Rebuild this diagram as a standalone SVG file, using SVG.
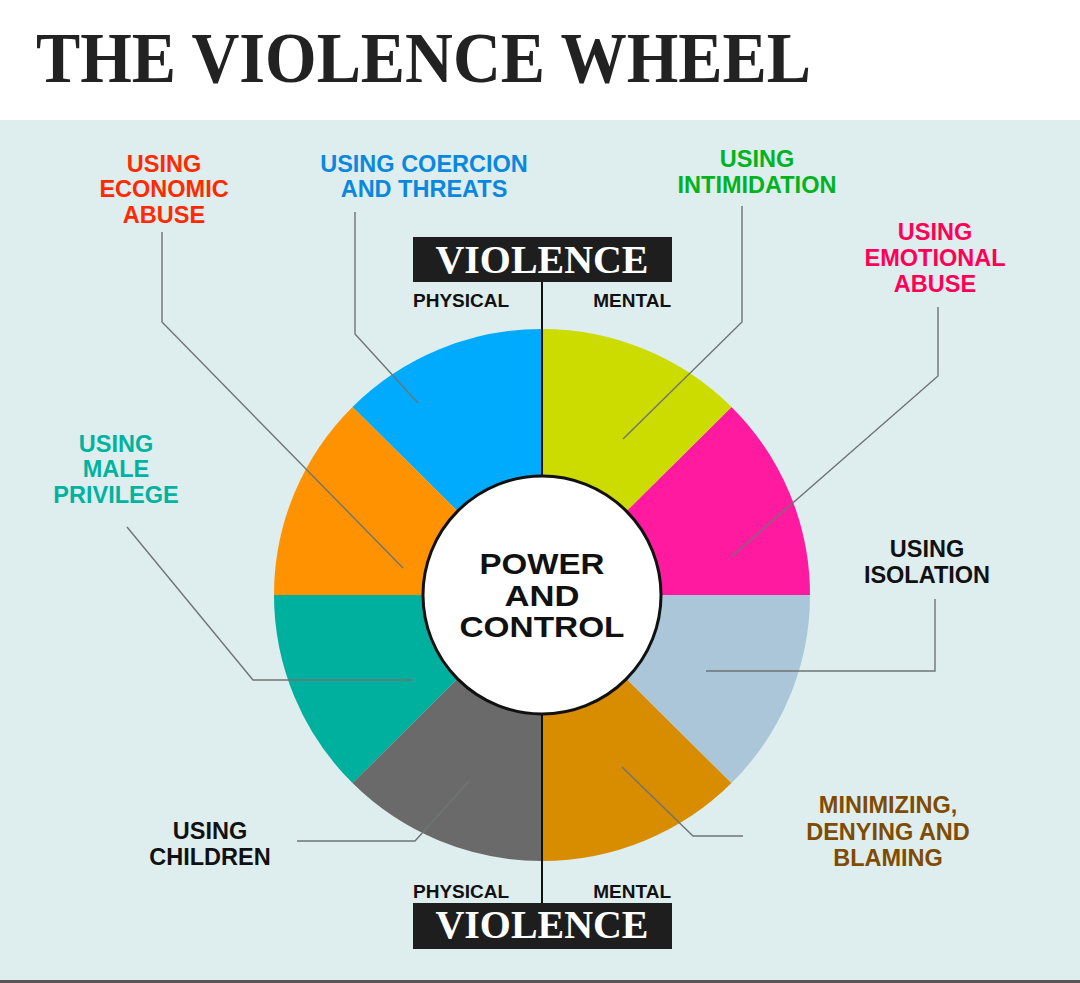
<svg xmlns="http://www.w3.org/2000/svg" width="1080" height="983" viewBox="0 0 1080 983">
  <style>
    .lbl { font-family: "Liberation Sans", Arial, sans-serif; font-weight: bold; font-size: 23.5px; text-anchor: middle; }
    .sub { font-family: "Liberation Sans", Arial, sans-serif; font-weight: bold; font-size: 19px; fill: #111; }
    .serif { font-family: "Liberation Serif", "Times New Roman", serif; font-weight: bold; }
    .ctr { font-family: "Liberation Sans", Arial, sans-serif; font-weight: bold; font-size: 29.5px; text-anchor: middle; fill: #111; }
    .lead { fill: none; stroke: #6f7474; stroke-width: 1.4; }
  </style>

  <!-- backgrounds -->
  <rect x="0" y="0" width="1080" height="983" fill="#ffffff"/>
  <rect x="0" y="120" width="1080" height="863" fill="#deedee"/>
  <rect x="0" y="980" width="1080" height="3" fill="#555555"/>

  <!-- title -->
  <g id="title">
    <text class="serif" x="36" y="82" font-size="72" fill="#222222" textLength="775" lengthAdjust="spacingAndGlyphs">THE VIOLENCE WHEEL</text>
  </g>

  <!-- wheel segments -->
  <g id="wheel">
    <path id="seg-emotional" d="M542,595 L810,595 A268,266 0 0 0 731.5,406.9 Z" fill="#ff1aa0"/>
    <path id="seg-intimidation" d="M542,595 L731.5,406.9 A268,266 0 0 0 542,329 Z" fill="#ccdb00"/>
    <path id="seg-coercion" d="M542,595 L542,329 A268,266 0 0 0 352.5,406.9 Z" fill="#00aafc"/>
    <path id="seg-economic" d="M542,595 L352.5,406.9 A268,266 0 0 0 274,595 Z" fill="#ff9200"/>
    <path id="seg-male" d="M542,595 L274,595 A268,266 0 0 0 352.5,783.1 Z" fill="#00b09f"/>
    <path id="seg-children" d="M542,595 L352.5,783.1 A268,266 0 0 0 542,861 Z" fill="#6a6a6a"/>
    <path id="seg-minimizing" d="M542,595 L542,861 A268,266 0 0 0 731.5,783.1 Z" fill="#d88c00"/>
    <path id="seg-isolation" d="M542,595 L731.5,783.1 A268,266 0 0 0 810,595 Z" fill="#aac6d8"/>
  </g>

  <!-- connectors -->
  <g id="connectors">
    <line x1="542" y1="282" x2="542" y2="903" stroke="#111111" stroke-width="2"/>
    <polyline class="lead" points="162,232 162,322 403,568"/>
    <polyline class="lead" points="355,212 355,334 418,403"/>
    <polyline class="lead" points="742,206 742,322 623,439"/>
    <polyline class="lead" points="938,307 938,376 731,557"/>
    <polyline class="lead" points="127,527 253,680 413,680"/>
    <polyline class="lead" points="935,599 935,671 706,671"/>
    <polyline class="lead" points="297,841 415,841 469,781"/>
    <polyline class="lead" points="622,767 693,836 743,836"/>
  </g>

  <!-- center -->
  <g id="center">
    <circle cx="542" cy="595" r="119" fill="#ffffff" stroke="#111111" stroke-width="3"/>
    <text class="ctr" x="542" y="574" textLength="125" lengthAdjust="spacingAndGlyphs">POWER</text>
    <text class="ctr" x="542" y="605.5" textLength="75" lengthAdjust="spacingAndGlyphs">AND</text>
    <text class="ctr" x="542" y="637" textLength="165" lengthAdjust="spacingAndGlyphs">CONTROL</text>
  </g>

  <!-- top violence header -->
  <g id="violence-top">
    <rect x="413" y="237" width="259" height="45" fill="#1e1e1e"/>
    <text class="serif" x="542" y="273" font-size="41" fill="#ffffff" text-anchor="middle" textLength="213" lengthAdjust="spacingAndGlyphs">VIOLENCE</text>
    <text class="sub" x="413" y="307">PHYSICAL</text>
    <text class="sub" x="671" y="307" text-anchor="end">MENTAL</text>
  </g>

  <!-- bottom violence header -->
  <g id="violence-bottom">
    <text class="sub" x="413" y="898">PHYSICAL</text>
    <text class="sub" x="671" y="898" text-anchor="end">MENTAL</text>
    <rect x="413" y="903" width="259" height="46" fill="#1e1e1e"/>
    <text class="serif" x="542" y="938" font-size="41" fill="#ffffff" text-anchor="middle" textLength="213" lengthAdjust="spacingAndGlyphs">VIOLENCE</text>
  </g>

  <!-- labels -->
  <g id="label-economic" fill="#ff2a00">
    <text class="lbl" x="164" y="172">USING</text>
    <text class="lbl" x="164" y="197">ECONOMIC</text>
    <text class="lbl" x="164" y="223">ABUSE</text>
  </g>
  <g id="label-coercion" fill="#0a88dd">
    <text class="lbl" x="424" y="172">USING COERCION</text>
    <text class="lbl" x="424" y="197">AND THREATS</text>
  </g>
  <g id="label-intimidation" fill="#00b320">
    <text class="lbl" x="757" y="167">USING</text>
    <text class="lbl" x="757" y="193">INTIMIDATION</text>
  </g>
  <g id="label-emotional" fill="#ff0057">
    <text class="lbl" x="935" y="240">USING</text>
    <text class="lbl" x="935" y="266">EMOTIONAL</text>
    <text class="lbl" x="935" y="292">ABUSE</text>
  </g>
  <g id="label-male" fill="#00b3a0">
    <text class="lbl" x="116" y="452">USING</text>
    <text class="lbl" x="116" y="477">MALE</text>
    <text class="lbl" x="116" y="503">PRIVILEGE</text>
  </g>
  <g id="label-isolation" fill="#111111">
    <text class="lbl" x="927" y="557">USING</text>
    <text class="lbl" x="927" y="583">ISOLATION</text>
  </g>
  <g id="label-children" fill="#111111">
    <text class="lbl" x="210" y="839">USING</text>
    <text class="lbl" x="210" y="865">CHILDREN</text>
  </g>
  <g id="label-minimizing" fill="#7f4b00">
    <text class="lbl" x="888" y="813">MINIMIZING,</text>
    <text class="lbl" x="888" y="840">DENYING AND</text>
    <text class="lbl" x="888" y="866">BLAMING</text>
  </g>
</svg>
